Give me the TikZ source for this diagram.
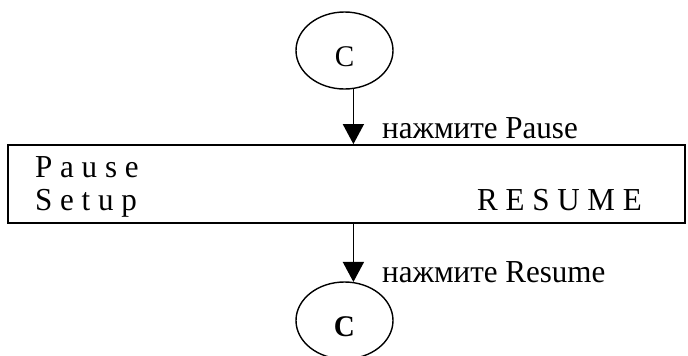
\documentclass[tikz,border=0pt]{standalone}
\usepackage{fontspec}
\setmainfont{Liberation Serif}[FakeStretch=0.97]
\usetikzlibrary{arrows.meta,shapes.geometric}
\begin{document}
\begin{tikzpicture}[x=1pt,y=-1pt,
  txt/.style={inner sep=0pt,font=\fontsize{32}{36}\selectfont},
  circ/.style={draw,ellipse,line width=1.4pt,minimum width=97pt,minimum height=77pt,inner sep=0pt,text height=32pt,text depth=0pt,font=\fontsize{30}{34}\selectfont},
  frame/.style={draw,line width=1.8pt,minimum width=677pt,minimum height=78pt,inner sep=0pt},
  arr/.style={line width=1.6pt,-{Triangle[length=20pt,width=21pt]}}]
\useasboundingbox (0,0) rectangle (688,356);
\node[circ] (c1) at (344.5,50.5) {C};
\node[frame] (box) at (346.5,184) {};
\node[circ] (c2) at (344.5,320.5) {\bfseries C};
\node[txt,anchor=base west] (l1) at (382,138) {нажмите Pause};
\node[txt,anchor=base west] (l2) at (382,282) {нажмите Resume};
\node[txt,anchor=base west] (t1) at (35,177) {P a u s e};
\node[txt,anchor=base west] (t2) at (35,210) {S e t u p};
\node[txt,anchor=base east] (t3) at (642,210) {R E S U M E};
\draw[arr] (c1.-77.4) -- (c1.-77.4 |- box.north);
\draw[arr] (c2.77.4 |- box.south) -- (c2.77.4);
\end{tikzpicture}
\end{document}
